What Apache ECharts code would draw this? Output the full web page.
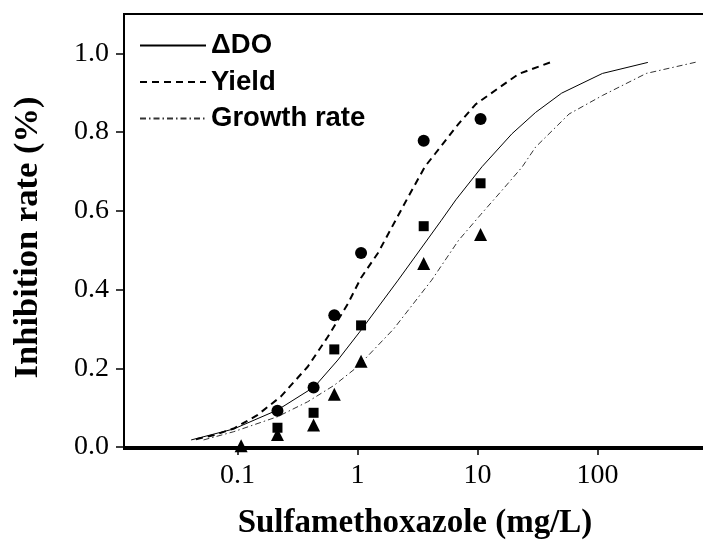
<!DOCTYPE html>
<html>
<head>
<meta charset="utf-8">
<script src="https://cdn.jsdelivr.net/npm/echarts@6/dist/echarts.min.js"></script>
<style>
  html, body { margin: 0; padding: 0; background: #fff; }
  #chart { width: 703px; height: 549px; }
</style>
</head>
<body>
<div id="chart"></div>
<script>
// fitted curves (x in mg/L, y as fraction)
var doCurveX = [0.041, 0.093, 0.215, 0.437, 0.685, 1.07, 2.18, 5.0, 6.6, 10.9, 19.4, 30.5, 50.3, 110, 263];
var doCurveY = [0.018, 0.046, 0.094, 0.153, 0.221, 0.297, 0.424, 0.576, 0.628, 0.712, 0.796, 0.850, 0.899, 0.949, 0.977];

var yieldCurveX = [0.045, 0.063, 0.093, 0.146, 0.229, 0.384, 0.565, 0.83, 1.07, 1.48, 2.64, 3.66, 4.43, 6.95, 9.6, 11.6, 22.1, 42];
var yieldCurveY = [0.020, 0.030, 0.047, 0.081, 0.128, 0.204, 0.280, 0.364, 0.430, 0.493, 0.635, 0.713, 0.745, 0.821, 0.870, 0.888, 0.948, 0.979];

var growthCurveX = [0.052, 0.093, 0.215, 0.384, 0.64, 1.0, 2.0, 4.15, 6.95, 10.6, 16.0, 23.5, 30.5, 58, 110, 255, 692];
var growthCurveY = [0.018, 0.039, 0.077, 0.115, 0.157, 0.204, 0.300, 0.424, 0.525, 0.590, 0.652, 0.711, 0.762, 0.846, 0.893, 0.949, 0.979];

// measured points
var sampleX = [0.215, 0.43, 0.64, 1.07, 3.56, 10.6];
var yieldPts = [0.092, 0.151, 0.335, 0.493, 0.778, 0.833];
var doPts = [0.049, 0.087, 0.248, 0.309, 0.561, 0.670];
var growthX = [0.107, 0.215, 0.43, 0.64, 1.07, 3.56, 10.6];
var growthPts = [0.003, 0.032, 0.056, 0.134, 0.218, 0.466, 0.540];

var xTicks = [0.1, 1, 10, 100];
var yTicks = [0, 0.2, 0.4, 0.6, 0.8, 1.0];

function zip(xs, ys) {
    var out = [];
    for (var i = 0; i < xs.length; i++) {
        out.push([xs[i], ys[i]]);
    }
    return out;
}

var serif = 'Liberation Serif';
var chart = echarts.init(document.getElementById('chart'));

var option = {
    animation: false,
    grid: {
        left: 124,
        top: 14,
        right: -3,
        bottom: 100,
        show: true,
        borderColor: '#000',
        borderWidth: 2,
        outerBoundsMode: 'none'
    },
    legend: {
        orient: 'vertical',
        left: 134,
        top: 25,
        itemWidth: 66,
        itemHeight: 14,
        itemGap: 5.5,
        itemStyle: { opacity: 0 },
        data: ['\u0394DO', 'Yield', 'Growth rate'],
        textStyle: {
            fontFamily: 'Liberation Sans',
            fontWeight: 'bold',
            fontSize: 27.5,
            lineHeight: 31,
            color: '#000'
        }
    },
    xAxis: {
        type: 'log',
        logBase: 10,
        min: 0.0113,
        max: 803,
        name: 'Sulfamethoxazole (mg/L)',
        nameLocation: 'middle',
        nameGap: 58,
        nameTextStyle: {
            fontFamily: serif,
            fontWeight: 'bold',
            fontSize: 33,
            color: '#000'
        },
        axisLine: { lineStyle: { color: '#000', width: 2 } },
        axisTick: { length: 8, lineStyle: { color: '#000', width: 1.5 }, customValues: xTicks },
        axisLabel: {
            customValues: xTicks,
            fontFamily: serif,
            fontSize: 28,
            color: '#000',
            margin: 13,
            formatter: function (v) { return String(+(+v).toPrecision(6)); }
        },
        splitLine: { show: false },
        minorTick: { show: false }
    },
    yAxis: {
        type: 'value',
        min: -0.005,
        max: 1.1,
        name: 'Inhibition rate (%)',
        nameLocation: 'middle',
        nameRotate: 90,
        nameGap: 78,
        nameTextStyle: {
            fontFamily: serif,
            fontWeight: 'bold',
            fontSize: 34.5,
            color: '#000',
            padding: [0, 12, 0, 0]
        },
        axisLine: { show: true, lineStyle: { color: '#000', width: 2 } },
        axisTick: { show: true, length: 8, lineStyle: { color: '#000', width: 1.5 }, customValues: yTicks },
        axisLabel: {
            customValues: yTicks,
            fontFamily: serif,
            fontSize: 28,
            color: '#000',
            margin: 15,
            formatter: function (v) { return (+v).toFixed(1); }
        },
        splitLine: { show: false }
    },
    series: [
        {
            name: '\u0394DO',
            type: 'line',
            data: zip(doCurveX, doCurveY),
            symbol: 'none',
            lineStyle: { color: '#000', width: 1, type: 'solid' },
            itemStyle: { color: '#000' }
        },
        {
            name: 'Yield',
            type: 'line',
            data: zip(yieldCurveX, yieldCurveY),
            symbol: 'none',
            lineStyle: { color: '#000', width: 2, type: [7, 5] },
            itemStyle: { color: '#000' }
        },
        {
            name: 'Growth rate',
            type: 'line',
            data: zip(growthCurveX, growthCurveY),
            symbol: 'none',
            lineStyle: { color: '#333', width: 1, type: [6, 3, 1.5, 3] },
            itemStyle: { color: '#333' }
        },
        {
            type: 'scatter',
            data: zip(sampleX, yieldPts),
            symbol: 'circle',
            symbolSize: 12,
            itemStyle: { color: '#000', opacity: 1 },
            z: 5
        },
        {
            type: 'scatter',
            data: zip(sampleX, doPts),
            symbol: 'rect',
            symbolSize: 10,
            itemStyle: { color: '#000', opacity: 1 },
            z: 5
        },
        {
            type: 'scatter',
            data: zip(growthX, growthPts),
            symbol: 'triangle',
            symbolSize: 13,
            itemStyle: { color: '#000', opacity: 1 },
            z: 5
        }
    ]
};

chart.setOption(option);
</script>
</body>
</html>
